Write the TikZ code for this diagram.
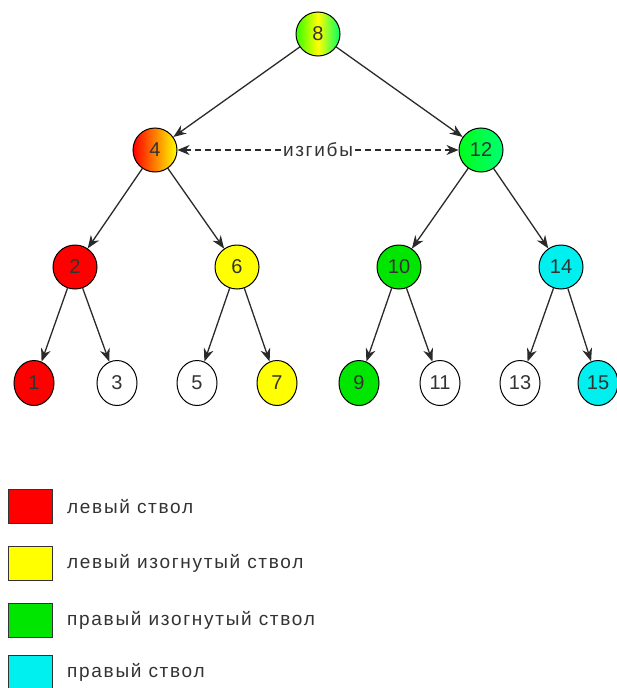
\documentclass[tikz,border=0pt]{standalone}
\usepackage{fontspec}
\setmainfont{Liberation Sans}
\newfontfamily\spacedfont[LetterSpace=9]{Liberation Sans}
\usetikzlibrary{arrows.meta,shapes.geometric}
\definecolor{nred}{HTML}{FF0000}
\definecolor{nyel}{HTML}{FFFF00}
\definecolor{ngrn}{HTML}{00E600}
\definecolor{ncyn}{HTML}{00F0F0}
\definecolor{edgec}{HTML}{2A2A2A}
\tikzset{
  tnode/.style={circle, draw=black, line width=1pt, minimum size=44pt, inner sep=0pt, font=\fontsize{20}{20}\selectfont, text=black!80},
  leaf/.style={ellipse, draw=black, line width=1pt, minimum width=40pt, minimum height=45pt, inner sep=0pt, font=\fontsize{20}{20}\selectfont, text=black!80},
  edge/.style={draw=edgec, line width=1.3pt, -{Stealth[length=13pt,width=10pt]}},
  bendline/.style={draw=edgec, line width=1.2pt, dash pattern=on 6pt off 4pt, -{Stealth[length=12pt,width=10pt]}},
  legbox/.style={draw=black!80, line width=1pt, minimum width=44pt, minimum height=34pt, inner sep=0pt},
  legtext/.style={anchor=west, inner sep=0pt, font=\spacedfont\fontsize{19}{19}\selectfont, text=black!80}
}
\begin{document}
\begin{tikzpicture}[x=1pt,y=-1pt]
\useasboundingbox (0,0) rectangle (617,688);
% tree nodes
\node[tnode, left color=green!80!yellow, right color=green!60!cyan, middle color=yellow] (n8) at (318,34) {8};
\node[tnode, shading angle=60, left color=nred, right color=nyel, middle color=orange] (n4) at (155,150) {4};
\node[tnode, left color=green!90!cyan, right color=green!55!cyan] (n12) at (481,150) {12};
\node[tnode, fill=nred] (n2) at (75,267) {2};
\node[tnode, fill=nyel] (n6) at (237,267) {6};
\node[tnode, fill=ngrn] (n10) at (399,267) {10};
\node[tnode, fill=ncyn] (n14) at (561,267) {14};
\node[leaf, fill=nred] (n1) at (34,383) {1};
\node[leaf, fill=white] (n3) at (117,383) {3};
\node[leaf, fill=white] (n5) at (197,383) {5};
\node[leaf, fill=nyel] (n7) at (277,383) {7};
\node[leaf, fill=ngrn] (n9) at (359,383) {9};
\node[leaf, fill=white] (n11) at (440,383) {11};
\node[leaf, fill=white] (n13) at (520,383) {13};
\node[leaf, fill=ncyn] (n15) at (598,383) {15};
% edges
\draw[edge] (n8) -- (n4);
\draw[edge] (n8) -- (n12);
\draw[edge] (n4) -- (n2);
\draw[edge] (n4) -- (n6);
\draw[edge] (n12) -- (n10);
\draw[edge] (n12) -- (n14);
\draw[edge] (n2) -- (n1);
\draw[edge] (n2) -- (n3);
\draw[edge] (n6) -- (n5);
\draw[edge] (n6) -- (n7);
\draw[edge] (n10) -- (n9);
\draw[edge] (n10) -- (n11);
\draw[edge] (n14) -- (n13);
\draw[edge] (n14) -- (n15);
% bends label
\node[font=\spacedfont\fontsize{19}{19}\selectfont, inner sep=2pt, text=black!80] (lab) at (318,150) {изгибы};
\draw[bendline] (lab) -- (n4);
\draw[bendline] (lab) -- (n12);
% legend
\node[legbox, fill=nred] (l1) at (30,506) {};
\node[legbox, fill=nyel] (l2) at (30,563) {};
\node[legbox, fill=ngrn] (l3) at (30,620) {};
\node[legbox, fill=ncyn] (l4) at (30,672) {};
\node[legtext] (t1) at (67,507) {левый ствол};
\node[legtext] (t2) at (67,563) {левый изогнутый ствол};
\node[legtext] (t3) at (67,620) {правый изогнутый ствол};
\node[legtext] (t4) at (67,672) {правый ствол};
\end{tikzpicture}
\end{document}
